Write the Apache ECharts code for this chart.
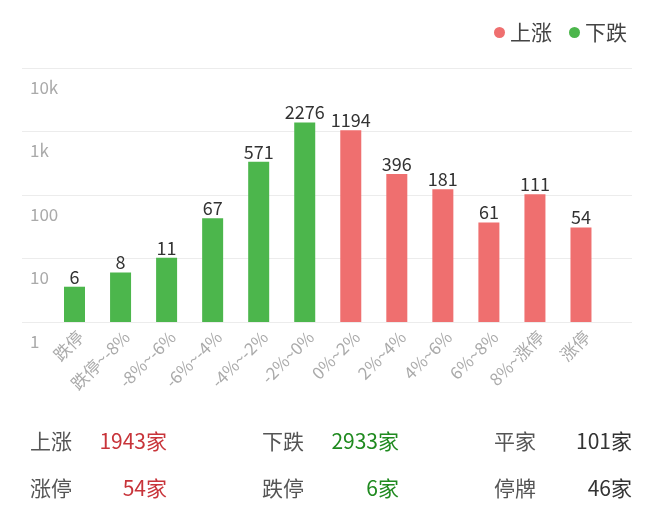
<!DOCTYPE html>
<html>
<head>
<meta charset="utf-8">
<script src="https://cdn.jsdelivr.net/npm/echarts@6/dist/echarts.min.js"></script>
<style>
html,body{margin:0;padding:0;background:#fff;}
#chart{width:660px;height:517px;}
</style>
</head>
<body>
<div id="chart"></div>
<script>
var categories = ['跌停','跌停~-8%','-8%~-6%','-6%~-4%','-4%~-2%','-2%~0%','0%~2%','2%~4%','4%~6%','6%~8%','8%~涨停','涨停'];
var downValues = [6, 8, 11, 67, 571, 2276, null, null, null, null, null, null];
var upValues   = [null, null, null, null, null, null, 1194, 396, 181, 61, 111, 54];
var tickLabels = ['1', '10', '100', '1k', '10k'];
var summaryLabels = ['上涨', '下跌', '平家', '涨停', '跌停', '停牌'];
var summaryValues = [1943, 2933, 101, 54, 6, 46];

var RED = '#ef6f6f', GREEN = '#4cb64c';
var TXT_RED = '#c8343a', TXT_GREEN = '#1f8a1f';
var FONT = '"Noto Sans CJK SC", "Noto Sans", sans-serif';

// Piecewise decade scale: each decade (1-10, 10-100, ...) spans one axis unit, linear within it.
function toAxis(v) {
  if (v == null) return null;
  var d = Math.floor(Math.log10(v));
  var lo = Math.pow(10, d);
  return d + (v - lo) / (9 * lo);
}
function mkData(arr) {
  return arr.map(function (v) { return v == null ? null : { value: toAxis(v), raw: v }; });
}

var chart = echarts.init(document.getElementById('chart'));
var summaryColors = [TXT_RED, TXT_GREEN, '#333', TXT_RED, TXT_GREEN, '#333'];
var labelX = [30, 262, 494];
var valueRight = [167, 399, 632];
var rowsY = [444, 491];
var graphics = [];
for (var i = 0; i < summaryLabels.length; i++) {
  var col = i % 3, row = Math.floor(i / 3);
  graphics.push({
    type: 'text', left: labelX[col], top: rowsY[row] - 13,
    style: { text: summaryLabels[i], fill: '#555', font: '21px ' + FONT }
  });
  graphics.push({
    type: 'text', right: 660 - valueRight[col], top: rowsY[row] - 13,
    style: { text: summaryValues[i] + '家', fill: summaryColors[i], font: '21px ' + FONT, textAlign: 'right' }
  });
}

var labelOpt = {
  show: true, position: 'top', distance: 1, color: '#333', fontSize: 18, fontFamily: FONT,
  formatter: function (p) { return p.data.raw; }
};

chart.setOption({
  animation: false,
  textStyle: { fontFamily: FONT },
  legend: {
    right: 28, top: 17, icon: 'circle', itemWidth: 11, itemHeight: 11, itemGap: 17,
    textStyle: { fontSize: 21, color: '#444' },
    data: [{ name: '上涨', itemStyle: { color: RED } }, { name: '下跌', itemStyle: { color: GREEN } }]
  },
  grid: [
    { left: 22, right: 28, top: 68, bottom: 195 },
    { left: 51.5, right: 56, top: 68, bottom: 195 }
  ],
  xAxis: [
    { gridIndex: 0, type: 'value', show: false, min: 0, max: 1 },
    {
      gridIndex: 1, type: 'category', data: categories,
      axisLine: { show: false }, axisTick: { show: false },
      axisLabel: { rotate: 45, color: '#aaa', fontSize: 17, margin: 6, interval: 0, verticalAlign: 'top' }
    }
  ],
  yAxis: [
    {
      gridIndex: 0, type: 'value', min: 0, max: 4, interval: 1,
      axisLine: { show: false }, axisTick: { show: false },
      splitLine: { lineStyle: { color: '#ececec', width: 1 } },
      axisLabel: {
        inside: true, margin: 8, color: '#aaa', fontSize: 17,
        verticalAlign: 'top', padding: [11, 0, 0, 0],
        formatter: function (v) { return tickLabels[Math.round(v)]; }
      }
    },
    { gridIndex: 1, type: 'value', min: 0, max: 4, interval: 1, show: false, splitLine: { show: false } }
  ],
  series: [
    {
      name: '下跌', type: 'bar', xAxisIndex: 1, yAxisIndex: 1, stack: 's',
      barWidth: 21, itemStyle: { color: GREEN }, data: mkData(downValues), label: labelOpt
    },
    {
      name: '上涨', type: 'bar', xAxisIndex: 1, yAxisIndex: 1, stack: 's',
      barWidth: 21, itemStyle: { color: RED }, data: mkData(upValues), label: labelOpt
    }
  ],
  graphic: graphics
});
</script>
</body>
</html>
